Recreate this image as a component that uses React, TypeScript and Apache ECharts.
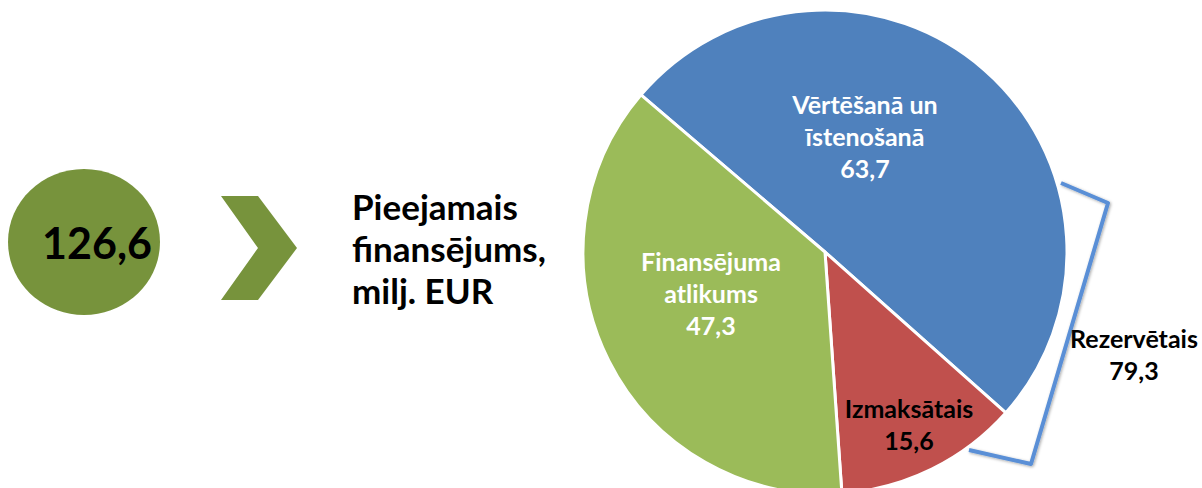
import React, { useEffect, useRef } from "react";
import * as echarts from "echarts";

const sliceNames = ["Vērtēšanā un\nīstenošanā", "Izmaksātais", "Finansējuma\natlikums"];
const sliceValues = [63.7, 15.6, 47.3];
const sliceColors = ["#4f81bd", "#c0504d", "#9bbb59"];
const sliceLabelColors = ["#ffffff", "#000000", "#ffffff"];
const totalValue = 126.6;
const totalCaption = "Pieejamais\nfinansējums,\nmilj. EUR";
const reservedName = "Rezervētais";
const reservedValue = 79.3;

const fmt = (v: number) => v.toFixed(1).replace(".", ",");
const FONT = "Lato, 'Noto Sans', sans-serif";

export default function App() {
  const ref = useRef<HTMLDivElement>(null);
  useEffect(() => {
    document.body.style.margin = "0";
    const chart = echarts.init(ref.current!, undefined, { renderer: "svg" });
    const labelPos = [
      [865, 136],
      [909, 424],
      [711, 293],
    ];
    chart.setOption({
      animation: false,
      backgroundColor: "#ffffff",
      series: [
        {
          type: "pie",
          center: [825, 252],
          radius: 242,
          startAngle: 139.5,
          clockwise: true,
          silent: true,
          z: 1,
          label: { show: false },
          labelLine: { show: false },
          itemStyle: { borderColor: "#ffffff", borderWidth: 3 },
          data: sliceNames.map((n, i) => ({
            name: n,
            value: sliceValues[i],
            itemStyle: { color: sliceColors[i] },
          })),
        },
      ],
      graphic: [
        {
          type: "ellipse",
          z: 10,
          shape: { cx: 84, cy: 242, rx: 76, ry: 73 },
          style: { fill: "#77933c" },
        },
        {
          type: "text",
          z: 11,
          x: 97,
          y: 242,
          style: {
            text: fmt(totalValue),
            fill: "#000",
            fontFamily: FONT,
            fontWeight: "bold",
            fontSize: 43,
            align: "center",
            verticalAlign: "middle",
          },
        },
        {
          type: "polygon",
          z: 10,
          shape: {
            points: [
              [221, 196],
              [258, 196],
              [297, 248],
              [258, 300],
              [221, 300],
              [258, 248],
            ],
          },
          style: { fill: "#77933c" },
        },
        {
          type: "text",
          z: 10,
          x: 352,
          y: 248,
          style: {
            text: totalCaption,
            fill: "#000",
            fontFamily: FONT,
            fontWeight: "bold",
            fontSize: 35,
            lineHeight: 42,
            align: "left",
            verticalAlign: "middle",
          },
        },
        ...sliceNames.map((n, i) => ({
          type: "text",
          z: 20,
          x: labelPos[i][0],
          y: labelPos[i][1],
          style: {
            text: n + "\n" + fmt(sliceValues[i]),
            fill: sliceLabelColors[i],
            fontFamily: FONT,
            fontWeight: "bold",
            fontSize: 25,
            lineHeight: 32,
            align: "center",
            verticalAlign: "middle",
          },
        })),
        {
          type: "polyline",
          z: 10,
          shape: {
            points: [
              [1061, 183],
              [1108, 203],
              [1031, 464],
              [969, 450],
            ],
          },
          style: {
            stroke: "#5a8fd6",
            lineWidth: 4,
            fill: "none",
            lineJoin: "round",
            shadowBlur: 3,
            shadowColor: "rgba(0,0,0,0.35)",
            shadowOffsetX: 1,
            shadowOffsetY: 1,
          },
        },
        {
          type: "text",
          z: 10,
          x: 1134,
          y: 354,
          style: {
            text: reservedName + "\n" + fmt(reservedValue),
            fill: "#000",
            fontFamily: FONT,
            fontWeight: "bold",
            fontSize: 25,
            lineHeight: 32,
            align: "center",
            verticalAlign: "middle",
          },
        },
      ],
    });
    return () => chart.dispose();
  }, []);
  return (
    <div
      ref={ref}
      style={{ position: "fixed", left: 0, top: 0, width: 1202, height: 488 }}
    />
  );
}
